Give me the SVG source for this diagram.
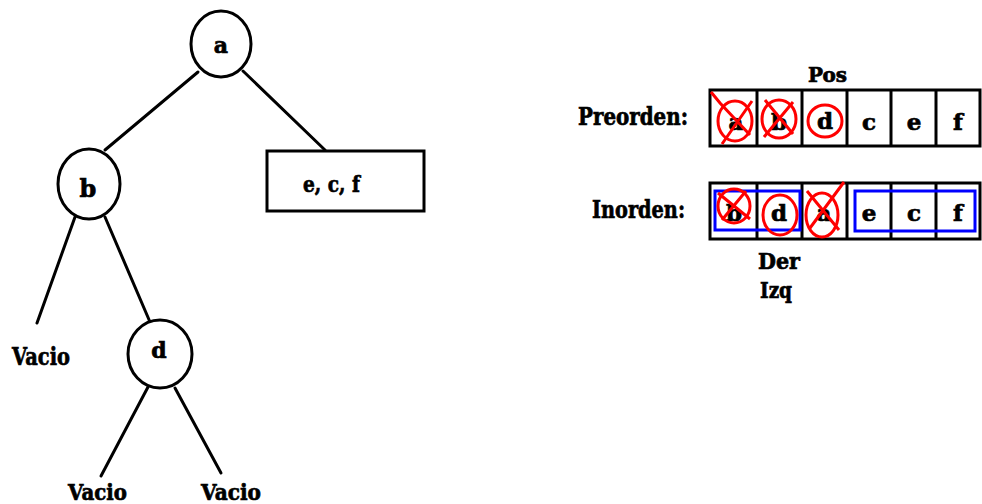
<svg xmlns="http://www.w3.org/2000/svg" width="982" height="504" viewBox="0 0 982 504">
  <style>
    .t { font-family: "DejaVu Serif", "Liberation Serif", serif; font-weight: bold; fill: #000; stroke: #000; stroke-width: 0.7; }
    .node { fill: #fff; stroke: #000; stroke-width: 3; }
    .edge { stroke: #000; stroke-width: 3; stroke-linecap: round; fill: none; }
    .cell { fill: #fff; stroke: #000; stroke-width: 3; }
    .mark { fill: none; stroke: #f00; stroke-width: 3; }
    .group { fill: none; stroke: #00f; stroke-width: 3; }
  </style>
  <rect width="982" height="504" fill="#fff"/>

  <!-- tree connectors -->
  <g id="connectors">
    <line class="edge" x1="198" y1="72" x2="105" y2="150"/>
    <line class="edge" x1="243" y1="71" x2="325" y2="150"/>
    <line class="edge" x1="75" y1="217" x2="37" y2="323"/>
    <line class="edge" x1="105" y1="217" x2="150" y2="322"/>
    <line class="edge" x1="148" y1="387" x2="101" y2="476"/>
    <line class="edge" x1="175" y1="388" x2="221" y2="473"/>
  </g>

  <g id="node-a">
    <ellipse class="node" cx="221" cy="44" rx="30" ry="33"/>
    <text class="t" x="221" y="53" font-size="22" text-anchor="middle">a</text>
  </g>
  <g id="node-b">
    <ellipse class="node" cx="89" cy="184" rx="31" ry="35"/>
    <text class="t" x="88" y="197" font-size="24" text-anchor="middle">b</text>
  </g>
  <g id="node-ecf">
    <rect class="node" x="267" y="151" width="157" height="60"/>
    <text class="t" x="303" y="192" font-size="23" textLength="57" lengthAdjust="spacingAndGlyphs">e, c, f</text>
  </g>
  <g id="node-d">
    <ellipse class="node" cx="160" cy="354" rx="32" ry="34"/>
    <text class="t" x="159" y="358" font-size="22" text-anchor="middle">d</text>
  </g>
  <g id="leaf-b-left">
    <text class="t" x="12" y="365" font-size="24" textLength="58" lengthAdjust="spacingAndGlyphs">Vacio</text>
  </g>
  <g id="leaf-d-left">
    <text class="t" x="68" y="500" font-size="23" textLength="59" lengthAdjust="spacingAndGlyphs">Vacio</text>
  </g>
  <g id="leaf-d-right">
    <text class="t" x="201" y="500" font-size="23" textLength="60" lengthAdjust="spacingAndGlyphs">Vacio</text>
  </g>

  <!-- traversal tables -->
  <g id="label-pos">
    <text class="t" x="808" y="82" font-size="21" textLength="39" lengthAdjust="spacingAndGlyphs">Pos</text>
  </g>
  <g id="preorden">
    <text class="t" x="578" y="125" font-size="24" textLength="110" lengthAdjust="spacingAndGlyphs">Preorden:</text>
    <rect class="cell" x="710" y="90" width="270" height="56"/>
    <line class="cell" x1="757" y1="90" x2="757" y2="146"/>
    <line class="cell" x1="802" y1="90" x2="802" y2="146"/>
    <line class="cell" x1="847" y1="90" x2="847" y2="146"/>
    <line class="cell" x1="891" y1="90" x2="891" y2="146"/>
    <line class="cell" x1="936" y1="90" x2="936" y2="146"/>
    <g font-size="23" text-anchor="middle" class="t">
      <text x="736" y="130">a</text>
      <text x="779" y="130">b</text>
      <text x="825" y="129">d</text>
      <text x="869" y="130">c</text>
      <text x="914" y="130">e</text>
      <text x="958" y="130">f</text>
    </g>
    <!-- crossed-out marks -->
    <ellipse class="mark" cx="735" cy="121" rx="17" ry="20"/>
    <path class="mark" d="M711 92 L720 103 L750 135 M752 101 L722 144"/>
    <ellipse class="mark" cx="779" cy="119" rx="17" ry="19"/>
    <path class="mark" d="M765 100 L793 134 M793 102 L764 137"/>
    <ellipse class="mark" cx="825" cy="121" rx="17" ry="16"/>
  </g>

  <g id="inorden">
    <text class="t" x="592" y="218" font-size="24" textLength="93" lengthAdjust="spacingAndGlyphs">Inorden:</text>
    <rect class="cell" x="710" y="183" width="270" height="56"/>
    <line class="cell" x1="757" y1="183" x2="757" y2="239"/>
    <line class="cell" x1="802" y1="183" x2="802" y2="239"/>
    <line class="cell" x1="847" y1="183" x2="847" y2="239"/>
    <line class="cell" x1="891" y1="183" x2="891" y2="239"/>
    <line class="cell" x1="936" y1="183" x2="936" y2="239"/>
    <rect class="group" x="715" y="191" width="85" height="39"/>
    <rect class="group" x="855" y="191" width="120" height="40"/>
    <g font-size="23" text-anchor="middle" class="t">
      <text x="734" y="221">b</text>
      <text x="779" y="221">d</text>
      <text x="824" y="221">a</text>
      <text x="869" y="221">e</text>
      <text x="914" y="221">c</text>
      <text x="958" y="221">f</text>
    </g>
    <ellipse class="mark" cx="734" cy="206" rx="16" ry="17"/>
    <path class="mark" d="M718 193 L750 219 M746 191 L722 220"/>
    <ellipse class="mark" cx="780" cy="215" rx="17" ry="20"/>
    <ellipse class="mark" cx="822" cy="215" rx="16" ry="22"/>
    <path class="mark" d="M807 191 L839 230 M844 182 L810 228"/>
  </g>

  <g id="labels-der-izq">
    <text class="t" x="758" y="269" font-size="23" textLength="42" lengthAdjust="spacingAndGlyphs">Der</text>
    <text class="t" x="760" y="298" font-size="23" textLength="32" lengthAdjust="spacingAndGlyphs">Izq</text>
  </g>
</svg>
